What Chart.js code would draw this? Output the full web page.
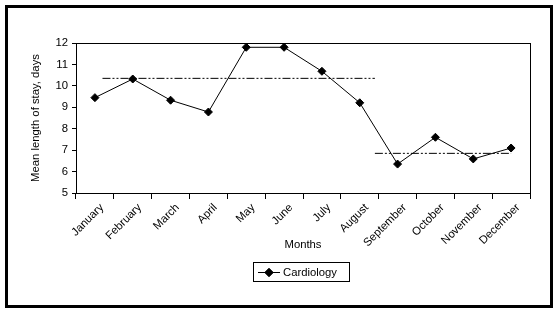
<!DOCTYPE html>
<html>
<head>
<meta charset="utf-8">
<script src="https://cdn.jsdelivr.net/npm/chart.js@4"></script>
<style>
  body { margin: 0; background: #fff; }
  canvas { display: block; }
</style>
</head>
<body>
<canvas id="grafica" width="559" height="313"></canvas>
<script>
// datos
const meses = ['January', 'February', 'March', 'April', 'May', 'June', 'July',
    'August', 'September', 'October', 'November', 'December'];
const estancia = [9.45, 10.32, 9.33, 8.78, 11.8, 11.8, 10.68, 9.21, 6.35, 7.6, 6.59, 7.1];
const yTicks = [5, 6, 7, 8, 9, 10, 11, 12];
// lineas de media (posicion en meses, valor)
const media1X = [0.7, 7.9];
const media1 = 10.35;
const media2X = [7.9, 11.5];
const media2 = 6.85;

Chart.defaults.font.family = '"Liberation Sans", Arial, sans-serif';
Chart.defaults.font.size = 11.3;
Chart.defaults.color = '#000';

const marco = {
    id: 'marco',
    beforeDraw(chart) {
        const c = chart.ctx;
        c.save();
        c.fillStyle = '#fff';
        c.fillRect(0, 0, chart.width, chart.height);
        c.restore();
    },
    afterDraw(chart) {
        const c = chart.ctx;
        const a = chart.chartArea;
        c.save();
        // caja del area de trazado
        c.strokeStyle = '#000';
        c.lineWidth = 1;
        c.strokeRect(Math.round(a.left) + 0.5, Math.round(a.top) + 0.5,
            Math.round(a.right - a.left), Math.round(a.bottom - a.top));
        // borde exterior
        c.lineWidth = 3;
        c.strokeRect(6.5, 6.5, 545, 300);
        // leyenda
        c.lineWidth = 1;
        c.strokeRect(253.5, 262.5, 96, 19);
        c.beginPath();
        c.moveTo(258, 272.5);
        c.lineTo(280, 272.5);
        c.stroke();
        c.fillStyle = '#000';
        Chart.helpers.drawPoint(c, { pointStyle: 'rectRot', radius: 4, borderWidth: 1 }, 269, 272.5);
        c.fill();
        c.stroke();
        c.font = '11.3px "Liberation Sans", Arial, sans-serif';
        c.textBaseline = 'middle';
        c.fillText(chart.data.datasets[0].label, 283, 272.5);
        c.restore();
    }
};

const ctx = document.getElementById('grafica').getContext('2d');
new Chart(ctx, {
    type: 'line',
    data: {
        labels: meses,
        datasets: [
            {
                label: 'Cardiology',
                data: estancia,
                borderColor: '#000',
                borderWidth: 1,
                backgroundColor: '#000',
                pointStyle: 'rectRot',
                pointRadius: 4,
                pointBorderWidth: 1,
                tension: 0
            },
            {
                label: 'media1',
                xAxisID: 'xm',
                data: media1X.map(x => ({ x: x, y: media1 })),
                borderColor: '#000',
                borderWidth: 1,
                borderDash: [8, 2, 2, 2, 2, 2],
                pointRadius: 0
            },
            {
                label: 'media2',
                xAxisID: 'xm',
                data: media2X.map(x => ({ x: x, y: media2 })),
                borderColor: '#000',
                borderWidth: 1,
                borderDash: [8, 2, 2, 2, 2, 2],
                pointRadius: 0
            }
        ]
    },
    options: {
        responsive: false,
        animation: false,
        devicePixelRatio: 1,
        layout: { padding: { top: 43, left: 0, right: 29, bottom: 50 } },
        plugins: {
            legend: { display: false },
            tooltip: { enabled: false }
        },
        scales: {
            x: {
                offset: true,
                grid: { offset: true, drawOnChartArea: false, tickLength: 6, color: '#000' },
                border: { color: '#000' },
                ticks: { minRotation: 45, maxRotation: 45, padding: 2, labelOffset: 7, autoSkip: false },
                title: { display: true, text: 'Months', padding: { top: 0, bottom: 11 } },
                afterFit(s) { s.height = 70; s.paddingLeft = 0; s.paddingRight = 0; }
            },
            xm: {
                type: 'linear',
                min: 0,
                max: 12,
                display: false
            },
            y: {
                min: yTicks[0],
                max: yTicks[yTicks.length - 1],
                afterBuildTicks(s) { s.ticks = yTicks.map(v => ({ value: v })); },
                grid: { drawOnChartArea: false, tickLength: 4, color: '#000' },
                border: { color: '#000' },
                ticks: { padding: 4 },
                title: { display: true, text: 'Mean length of stay, days', padding: { top: 29, bottom: 0 } },
                afterFit(s) { s.width = 76; s.paddingTop = 0; s.paddingBottom = 0; }
            }
        }
    },
    plugins: [marco]
});
</script>
</body>
</html>
